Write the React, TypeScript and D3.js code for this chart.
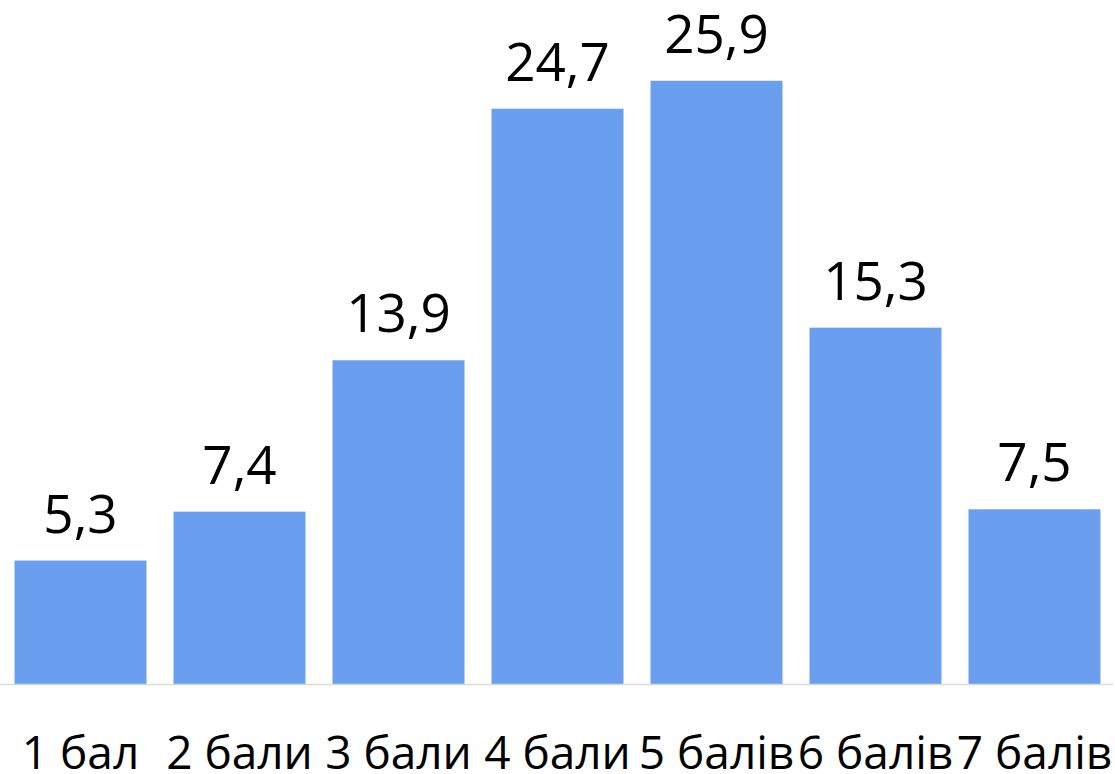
import React from "react";
import * as d3 from "d3";

const categories = ["1 бал", "2 бали", "3 бали", "4 бали", "5 балів", "6 балів", "7 балів"];
const values = [5.3, 7.4, 13.9, 24.7, 25.9, 15.3, 7.5];
const labels = ["5,3", "7,4", "13,9", "24,7", "25,9", "15,3", "7,5"];

const W = 1115;
const H = 774;
const baseY = 684;
const FONT = "'Open Sans', 'Noto Sans', sans-serif";

export default function App() {
  const x = d3
    .scaleBand<string>()
    .domain(categories)
    .range([1, 1114])
    .paddingInner(0.17)
    .paddingOuter(0.085);
  const y = d3.scaleLinear().domain([0, 30]).range([baseY, baseY - 30 * 23.29]);

  return (
    <svg
      width={W}
      height={H}
      style={{ position: "absolute", left: 0, top: 0, background: "#fff" }}
    >
      {categories.map((c, i) => (
        <rect
          key={c}
          x={x(c)}
          y={y(values[i])}
          width={x.bandwidth()}
          height={baseY - y(values[i])}
          fill="#6A9EEE"
        />
      ))}
      <line x1={0} x2={1113} y1={baseY + 0.5} y2={baseY + 0.5} stroke="#D9D9D9" strokeWidth={1.5} />
      {categories.map((c, i) => (
        <text
          key={"v" + c}
          x={(x(c) as number) + x.bandwidth() / 2}
          y={y(values[i]) - 28}
          textAnchor="middle"
          fontFamily={FONT}
          fontSize={53}
          fill="#000"
        >
          {labels[i]}
        </text>
      ))}
      {categories.map((c) => (
        <text
          key={"c" + c}
          x={(x(c) as number) + x.bandwidth() / 2}
          y={769}
          textAnchor="middle"
          fontFamily={FONT}
          fontSize={46}
          fill="#000"
        >
          {c}
        </text>
      ))}
    </svg>
  );
}
